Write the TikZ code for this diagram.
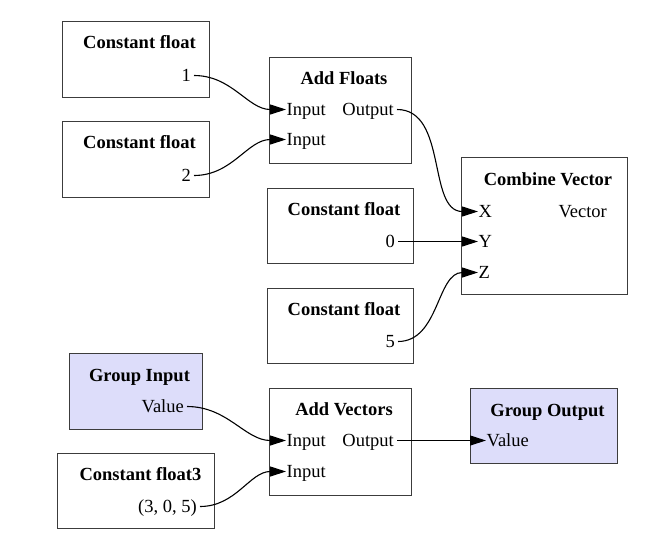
\documentclass[tikz,border=0pt]{standalone}
\usepackage{fontspec}
\setmainfont{Liberation Serif}
\usepackage{tikz}
\usetikzlibrary{arrows.meta}
\usetikzlibrary{positioning}
\definecolor{groupfill}{RGB}{221,221,250}
\definecolor{boxline}{RGB}{60,60,60}

\begin{document}
\begin{tikzpicture}[
                x = 1pt, y = -1pt,
                font = \fontsize{18.5}{22}\selectfont,
                box/.style = {draw = boxline, line width = 1.2pt,
                  anchor = north west, inner sep = 0pt},
                group/.style = {box, fill = groupfill},
                title/.style = {anchor = base, inner sep = 0pt,
                  font = \fontsize{18.5}{22}\selectfont\bfseries},
                outport/.style = {anchor = base east, inner xsep = 3pt,
                  inner ysep = 0pt, text height = 11pt, text depth = 0pt},
                inport/.style = {anchor = base west, inner xsep = 0.5pt,
                  inner ysep = 0pt, text height = 11pt, text depth = 0pt},
                wire/.style = {line width = 1.1pt,
                  -{Triangle[length = 16pt, width = 10pt]}}
                ]
                \useasboundingbox (0,0) rectangle (661,555);

                % Boxes
                \node[box, minimum width = 147pt, minimum height = 76pt]  (cfOne)  at (62,21)   {};
                \node[box, minimum width = 147pt, minimum height = 76pt]  (cfTwo)  at (62,121)  {};
                \node[box, minimum width = 142pt, minimum height = 106pt] (addF)   at (269,57)  {};
                \node[box, minimum width = 166pt, minimum height = 137pt] (comb)   at (461,157) {};
                \node[box, minimum width = 146pt, minimum height = 75pt]  (cfZero) at (267,188) {};
                \node[box, minimum width = 146pt, minimum height = 75pt]  (cfFive) at (267,288) {};
                \node[group, minimum width = 133pt, minimum height = 76pt] (gIn)  at (69,353)  {};
                \node[box, minimum width = 142pt, minimum height = 107pt] (addV)   at (269,388) {};
                \node[group, minimum width = 147pt, minimum height = 75pt] (gOut) at (470,388) {};
                \node[box, minimum width = 157pt, minimum height = 75pt]  (cfVec)  at (57,453)  {};

                % Titles
                \node[title] (cfOneT)  at (139.5,48)  {Constant float};
                \node[title] (cfTwoT)  at (139.5,148) {Constant float};
                \node[title] (addFT)   at (344,84)    {Add Floats};
                \node[title] (combT)   at (548,185)   {Combine Vector};
                \node[title] (cfZeroT) at (344,215)   {Constant float};
                \node[title] (cfFiveT) at (344,315)   {Constant float};
                \node[title] (gInT)    at (139.5,381) {Group Input};
                \node[title] (addVT)   at (344,415)   {Add Vectors};
                \node[title] (gOutT)   at (547.5,416) {Group Output};
                \node[title] (cfVecT)  at (140.5,480) {Constant float3};

                % Ports
                \node[outport] (cfOneV)  at (194,81)  {1};
                \node[outport] (cfTwoV)  at (194,181) {2};
                \node[inport]  (addFinA) at (286,115) {Input};
                \node[inport]  (addFinB) at (286,145) {Input};
                \node[outport] (addFout) at (397,115) {Output};
                \node[inport]  (combX)   at (478,217) {X};
                \node[inport]  (combY)   at (478,247) {Y};
                \node[inport]  (combZ)   at (478,278) {Z};
                \node[outport] (combOut) at (610,217) {Vector};
                \node[outport] (cfZeroV) at (398,247) {0};
                \node[outport] (cfFiveV) at (398,347) {5};
                \node[outport] (gInV)    at (187,412) {Value};
                \node[inport]  (addVinA) at (286,446) {Input};
                \node[inport]  (addVinB) at (286,477) {Input};
                \node[outport] (addVout) at (397,446) {Output};
                \node[inport]  (gOutV)   at (486,446) {Value};
                \node[outport] (cfVecV)  at (200,512) {(3, 0, 5)};

                % Edges
                \draw[wire] (cfOneV.east)  to[out = 0, in = 180] (addFinA.west);
                \draw[wire] (cfTwoV.east)  to[out = 0, in = 180] (addFinB.west);
                \draw[wire] (addFout.east) to[out = 0, in = 180] (combX.west);
                \draw[wire] (cfZeroV.east) to[out = 0, in = 180] (combY.west);
                \draw[wire] (cfFiveV.east) to[out = 0, in = 180] (combZ.west);
                \draw[wire] (gInV.east)    to[out = 0, in = 180] (addVinA.west);
                \draw[wire] (cfVecV.east)  to[out = 0, in = 180] (addVinB.west);
                \draw[wire] (addVout.east) to[out = 0, in = 180] (gOutV.west);
            \end{tikzpicture}
\end{document}
